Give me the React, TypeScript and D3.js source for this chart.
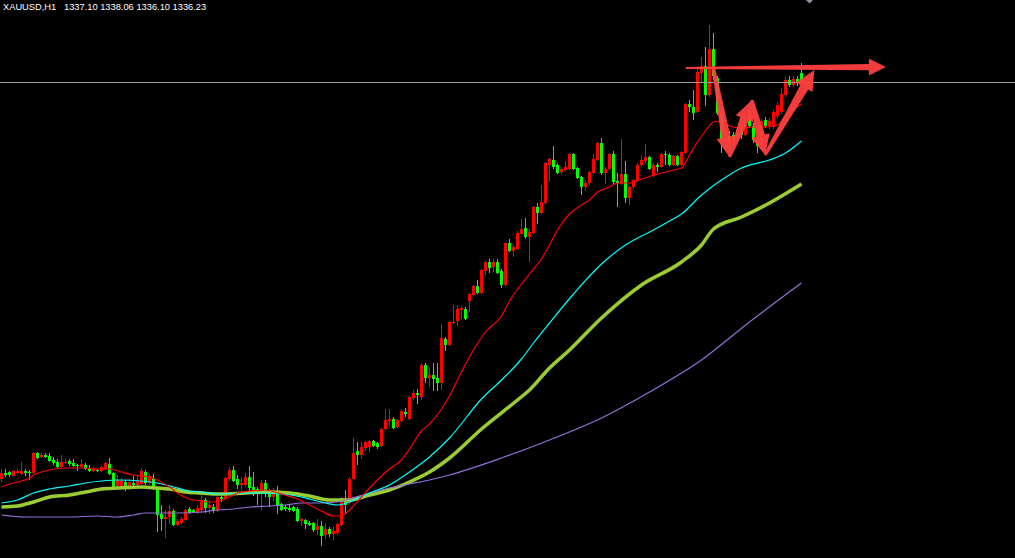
import React, { useEffect } from "react";
import * as d3 from "d3";

type Candle = [number, number, number, number]; // open, high, low, close
type Pt = [number, number]; // candle index, price

const symbolLabel = "XAUUSD,H1";

const candlesRange: Candle[] = [
  [1296.5,1297.5,1296.2,1297.1],[1297.1,1297.5,1296.7,1296.9],[1297.2,1297.3,1296.7,1296.9],
  [1296.8,1297.4,1296.7,1297.3],[1297.1,1297.5,1297.0,1297.3],[1297.0,1298.2,1296.9,1297.3],
  [1297.3,1297.5,1296.8,1297.1],[1297.2,1297.4,1296.4,1297.1],[1297.1,1299.2,1297.0,1299.1],
  [1299.1,1299.2,1298.5,1298.6],[1298.7,1299.1,1298.6,1298.9],[1298.9,1299.1,1298.6,1298.7],
  [1298.8,1299.1,1298.2,1298.3],[1298.4,1298.7,1297.9,1298.1],[1298.2,1298.5,1297.6,1297.7],
  [1297.7,1298.9,1297.6,1298.2],[1298.1,1298.5,1298.0,1298.2],[1298.3,1298.5,1297.8,1298.0],
  [1298.1,1298.5,1297.7,1297.8],[1297.9,1298.0,1297.3,1297.8],[1297.7,1298.5,1297.6,1298.0],
  [1297.9,1298.1,1297.4,1297.5],[1297.6,1297.9,1297.2,1297.3],[1297.3,1297.7,1297.2,1297.5],
  [1297.4,1297.5,1297.2,1297.3],[1297.3,1297.8,1297.2,1297.7],[1297.5,1298.2,1297.4,1298.1],
  [1298.0,1298.6,1296.9,1297.0],[1297.1,1297.2,1295.6,1295.7],[1295.8,1296.9,1295.6,1296.4],
  [1295.8,1296.6,1295.7,1296.3],[1296.2,1296.4,1295.3,1295.7],[1295.5,1296.5,1295.4,1296.2],
  [1296.1,1296.8,1295.7,1295.9],[1295.9,1296.8,1295.6,1296.3],[1296.0,1297.6,1295.9,1297.3],
  [1297.2,1297.4,1295.9,1296.1],[1296.1,1297.0,1295.9,1296.8],[1296.6,1297.0,1295.4,1295.5],
  [1295.6,1295.7,1291.2,1292.9],[1293.0,1293.9,1291.3,1292.5],[1292.5,1293.4,1290.6,1292.7],
  [1292.7,1293.9,1292.0,1293.3],[1293.3,1293.5,1291.8,1291.9],[1291.9,1292.5,1291.8,1292.3],
  [1292.1,1292.7,1292.0,1292.5],[1292.4,1293.5,1292.3,1293.4],[1293.5,1293.7,1293.0,1293.1],
  [1293.4,1293.5,1293.1,1293.2],[1293.1,1293.9,1293.0,1293.6],
];

const candlesBase: Candle[] = [
  [1293.4,1295.2,1293.1,1294.4],[1294.4,1294.6,1293.1,1293.6],[1293.6,1294.2,1293.0,1293.9],
  [1293.7,1294.0,1293.1,1293.3],[1293.3,1294.8,1293.2,1294.7],[1294.7,1294.9,1294.2,1294.5],
  [1294.5,1296.7,1294.4,1296.6],[1296.5,1297.7,1296.3,1297.4],[1297.4,1297.8,1296.2,1296.3],
  [1296.5,1296.9,1295.5,1295.9],[1295.9,1296.7,1295.4,1296.1],[1295.9,1297.1,1295.7,1296.7],
  [1296.7,1297.8,1295.1,1295.6],[1295.7,1297.2,1294.8,1295.2],[1295.5,1295.7,1293.9,1295.2],
  [1295.1,1296.4,1293.4,1296.1],[1296.1,1296.4,1294.7,1295.3],[1295.4,1295.5,1293.7,1294.7],
  [1294.7,1295.6,1294.3,1295.3],[1295.3,1295.8,1293.0,1293.9],[1294.0,1294.1,1293.3,1293.4],
  [1293.7,1293.9,1293.3,1293.5],[1293.6,1293.9,1293.2,1293.4],[1293.7,1293.8,1293.2,1293.3],
  [1293.5,1293.7,1292.2,1292.3],[1292.3,1292.6,1291.8,1292.5],[1292.4,1292.5,1291.5,1292.0],
  [1292.1,1292.3,1291.8,1291.9],[1292.1,1292.2,1291.2,1291.4],[1291.4,1292.5,1290.9,1291.8],
  [1291.8,1292.3,1289.8,1290.8],[1290.9,1292.1,1290.5,1291.5],[1291.5,1291.7,1290.7,1291.0],
  [1291.0,1291.7,1290.4,1291.3],[1291.1,1292.1,1290.9,1292.0],[1291.9,1294.7,1291.8,1294.6],
  [1294.5,1295.4,1293.1,1293.9],[1294.1,1296.7,1294.0,1296.5],
];

const candlesRally: Candle[] = [
  [1296.5,1300.6,1296.4,1299.1],[1299.3,1300.2,1297.9,1298.9],[1298.9,1300.2,1298.5,1299.7],
  [1299.6,1300.3,1299.3,1300.2],[1299.7,1300.4,1299.2,1300.3],[1300.3,1300.4,1299.7,1299.8],
  [1300.1,1300.2,1299.5,1299.7],[1299.8,1301.6,1299.7,1301.5],[1301.5,1303.5,1301.4,1302.4],
  [1302.3,1303.5,1301.7,1302.5],[1302.5,1302.7,1301.5,1301.6],[1301.7,1302.5,1301.6,1302.4],
  [1302.3,1303.5,1302.2,1303.3],[1303.2,1303.6,1302.7,1303.0],[1302.5,1304.8,1302.4,1304.7],
  [1304.6,1305.4,1304.4,1305.1],[1305.1,1305.5,1304.0,1304.9],[1304.7,1308.1,1304.4,1307.9],
  [1307.9,1308.1,1306.1,1306.6],[1306.6,1307.7,1305.7,1306.9],[1306.9,1308.1,1305.3,1306.5],
  [1306.6,1308.1,1305.3,1306.1],[1306.1,1312.0,1305.4,1310.6],[1310.5,1310.7,1309.3,1309.9],
  [1309.9,1312.3,1309.8,1312.2],[1312.1,1313.9,1312.0,1312.2],[1312.3,1313.9,1311.8,1313.5],
  [1313.4,1313.8,1312.5,1313.6],[1313.5,1313.7,1312.4,1312.5],[1314.3,1315.1,1313.2,1315.0],
  [1314.9,1315.9,1314.8,1315.8],[1315.8,1316.4,1315.0,1315.1],[1315.1,1317.5,1315.0,1317.4],
  [1317.3,1318.3,1316.9,1318.2],[1318.2,1318.5,1317.1,1317.6],[1317.7,1318.5,1317.2,1318.2],
  [1318.2,1318.5,1317.0,1317.1],[1317.3,1317.5,1315.6,1315.9],[1315.9,1320.2,1315.8,1320.1],
  [1320.1,1320.5,1319.2,1319.3],[1319.3,1319.9,1318.7,1319.7],[1319.5,1321.3,1319.4,1321.1],
  [1321.0,1322.5,1320.9,1321.5],[1321.6,1322.6,1320.5,1320.7],[1320.7,1321.5,1318.2,1321.2],
  [1321.1,1323.8,1321.0,1323.7],[1323.7,1324.1,1322.0,1323.1],[1323.1,1325.9,1323.0,1324.2],
  [1324.1,1328.2,1324.0,1328.1],[1327.9,1328.6,1326.2,1328.5],
];

const candlesTop: Candle[] = [
  [1328.4,1329.8,1327.5,1327.7],[1327.9,1328.1,1327.0,1327.1],[1327.2,1327.7,1327.0,1327.5],
  [1327.4,1328.3,1327.3,1327.7],[1327.5,1329.1,1327.4,1329.0],[1329.0,1329.1,1327.4,1327.5],
  [1327.6,1327.7,1326.5,1326.6],[1326.7,1326.8,1324.9,1325.7],[1325.7,1326.4,1325.3,1326.1],
  [1326.1,1327.3,1325.9,1327.2],[1327.1,1329.0,1327.0,1328.5],[1328.4,1330.2,1328.3,1330.1],
  [1330.1,1330.6,1326.9,1327.1],[1327.1,1327.7,1326.0,1327.5],[1327.5,1329.1,1327.4,1329.0],
  [1329.0,1329.3,1325.9,1326.2],[1326.3,1327.1,1323.7,1326.1],[1326.0,1330.5,1325.9,1327.0],
  [1327.0,1328.3,1324.1,1324.6],[1324.6,1325.8,1323.9,1325.7],[1325.7,1326.5,1325.5,1326.4],
  [1326.3,1328.1,1326.2,1327.9],[1327.9,1328.9,1327.7,1328.4],[1328.3,1330.0,1328.0,1328.7],
  [1328.7,1328.8,1327.4,1327.5],[1326.8,1328.1,1326.7,1327.9],[1327.9,1328.1,1327.2,1327.7],
  [1327.7,1329.1,1327.6,1329.0],[1329.0,1329.3,1327.9,1328.9],[1328.9,1329.1,1327.8,1327.9],
  [1327.9,1328.9,1327.8,1328.8],[1328.8,1328.9,1327.8,1327.9],[1327.9,1329.3,1327.8,1329.2],
];

const candlesPeak: Candle[] = [
  [1329.1,1334.1,1329.0,1334.0],[1334.0,1334.4,1333.2,1333.7],[1333.7,1335.4,1332.4,1333.1],
  [1333.2,1337.7,1333.1,1337.2],[1337.1,1338.7,1336.2,1337.8],[1337.8,1339.7,1333.8,1334.9],
  [1334.9,1341.9,1334.7,1339.5],[1339.5,1341.1,1336.4,1336.8],[1336.6,1336.8,1332.9,1333.1],
  [1333.1,1333.4,1329.1,1330.4],[1330.2,1331.1,1329.4,1330.8],[1330.8,1331.3,1329.4,1330.3],
  [1330.9,1331.2,1330.2,1330.6],[1330.6,1331.7,1330.4,1331.5],[1331.5,1331.8,1330.5,1330.9],
  [1330.9,1332.7,1330.8,1332.5],[1332.6,1333.1,1331.7,1331.8],[1331.8,1332.1,1330.1,1330.4],
  [1330.4,1330.7,1329.1,1329.8],[1329.8,1332.5,1329.6,1332.3],[1332.4,1332.7,1331.6,1331.8],
  [1331.8,1332.6,1331.5,1332.3],[1331.7,1333.4,1331.5,1333.2],[1332.8,1334.2,1332.6,1333.9],
  [1333.2,1335.6,1333.0,1335.0],[1334.9,1336.7,1334.7,1336.4],[1336.4,1336.8,1335.7,1335.9],
  [1335.9,1336.8,1335.7,1336.5],[1336.5,1336.8,1335.8,1336.1],[1337.10,1338.06,1336.10,1336.23],
];

const maRed: Pt[] = [
  [0,1295.7],[2,1296.0],[5,1296.3],[7,1296.6],[8,1296.9],[10,1297.2],[12,1297.4],[16,1297.6],
  [20,1297.6],[25,1297.5],[27,1297.5],[30,1297.2],[33,1296.9],[37,1296.7],[39,1296.4],[42,1295.7],
  [44,1295.1],[47,1294.5],[50,1294.3],[53,1294.2],[56,1294.5],[59,1295.1],[62,1295.3],[66,1295.4],
  [70,1295.0],[74,1294.5],[77,1293.9],[80,1293.3],[83,1292.8],[85,1292.8],[87,1293.4],[90,1294.7],
  [92,1295.6],[95,1296.8],[97,1297.5],[100,1298.4],[102,1299.5],[105,1301.3],[107,1302.0],[110,1303.5],
  [112,1304.8],[115,1307.2],[118,1309.4],[121,1311.2],[125,1312.8],[127,1314.3],[130,1316.0],[132,1317.0],
  [135,1318.5],[137,1319.9],[139,1321.4],[142,1323.0],[145,1323.9],[147,1324.4],[149,1325.2],[152,1325.7],
  [154,1326.1],[157,1326.1],[160,1326.5],[165,1327.1],[168,1327.4],[170,1327.6],[172,1328.9],[174,1330.2],
  [176,1331.3],[178,1332.2],[180,1332.3],[182,1331.8],[185,1331.6],[188,1331.7],[191,1331.7],[194,1331.9],
  [196,1332.8],[198,1333.5],[200,1334.0],
];

const maCyan: Pt[] = [
  [0,1294.1],[4,1294.4],[8,1295.1],[12,1295.5],[17,1295.8],[21,1296.1],[25,1296.3],[29,1296.4],
  [35,1296.3],[39,1296.1],[43,1295.7],[47,1295.3],[50,1295.2],[54,1295.0],[62,1295.1],[70,1295.0],
  [75,1294.7],[77,1294.5],[80,1294.2],[84,1293.9],[87,1294.2],[92,1295.1],[97,1295.9],[102,1297.2],
  [107,1298.7],[112,1300.6],[120,1304.5],[125,1306.4],[130,1308.5],[133,1310.1],[137,1312.1],[143,1315.0],
  [150,1318.0],[156,1319.9],[163,1321.4],[167,1322.3],[170,1323.0],[175,1324.9],[180,1326.4],[185,1327.6],
  [192,1328.4],[196,1329.1],[200,1330.3],
];

const maGreen: Pt[] = [
  [0,1293.7],[4,1293.8],[8,1294.2],[12,1294.7],[17,1294.9],[21,1295.2],[25,1295.5],[29,1295.6],
  [35,1295.7],[39,1295.6],[42,1295.5],[46,1295.2],[50,1295.1],[54,1295.0],[61,1295.1],[67,1295.2],
  [72,1295.1],[77,1294.8],[82,1294.4],[87,1294.4],[92,1294.9],[97,1295.4],[102,1296.2],[107,1297.2],
  [112,1298.6],[120,1301.5],[129,1304.4],[132,1305.4],[137,1307.6],[142,1309.4],[150,1312.6],[160,1315.9],
  [170,1318.2],[175,1319.9],[178,1321.5],[185,1322.7],[192,1324.1],[200,1326.0],
];

const maPurple: Pt[] = [
  [0,1292.9],[6,1292.7],[10,1292.7],[17,1292.7],[24,1292.8],[29,1292.7],[33,1292.9],[36,1293.1],
  [40,1293.1],[44,1293.1],[50,1293.2],[54,1293.4],[58,1293.5],[62,1293.7],[67,1293.8],[71,1293.9],
  [75,1294.1],[79,1294.1],[84,1294.2],[87,1294.5],[92,1295.1],[97,1295.6],[102,1296.0],[107,1296.4],
  [112,1296.9],[125,1298.6],[137,1300.4],[150,1302.6],[162,1305.2],[175,1308.4],[187,1312.2],[200,1316.1],
];

const arrowZigzag: Pt[] = [[177.9,1337.8],[182.0,1328.7],[187.6,1334.4],[190.9,1328.9],[203.2,1337.4]];
const arrowFlat: Pt[] = [[171.1,1337.6],[221.1,1337.7]];

const candles: Candle[] = [...candlesRange, ...candlesBase, ...candlesRally, ...candlesTop, ...candlesPeak];

const W = 1015;
const H = 558;
const x = d3.scaleLinear().domain([0, 200]).range([1.5, 801.5]);
const y = d3.scaleLinear().domain([1288.6, 1344.4]).range([H, 0]);

function arrowPolygon(a: Pt, b: Pt, w0: number, w1: number, hw: number, hl: number): string {
  const x0 = x(a[0]), y0 = y(a[1]), x1 = x(b[0]), y1 = y(b[1]);
  const dx = x1 - x0, dy = y1 - y0;
  const L = Math.hypot(dx, dy);
  const ux = dx / L, uy = dy / L;
  const nx = -uy, ny = ux;
  const bx = x1 - ux * hl, by = y1 - uy * hl;
  const pts: [number, number][] = [
    [x0 + nx * w0, y0 + ny * w0],
    [bx + nx * w1, by + ny * w1],
    [bx + nx * hw, by + ny * hw],
    [x1, y1],
    [bx - nx * hw, by - ny * hw],
    [bx - nx * w1, by - ny * w1],
    [x0 - nx * w0, y0 - ny * w0],
  ];
  return pts.map((p) => p[0].toFixed(2) + "," + p[1].toFixed(2)).join(" ");
}

export default function App() {
  useEffect(() => {
    document.body.style.margin = "0";
    document.body.style.background = "#000";
  }, []);

  const line = d3
    .line<Pt>()
    .x((d) => x(d[0]))
    .y((d) => y(d[1]))
    .curve(d3.curveMonotoneX);

  const last = candles[candles.length - 1];
  const bidY = Math.round(y(last[3])) + 0.5;
  const headerValues = last.map((v) => v.toFixed(2)).join(" ");

  return (
    <svg
      width={W}
      height={H}
      style={{ position: "fixed", left: 0, top: 0, display: "block", background: "#000" }}
    >
      <rect x={0} y={0} width={W} height={H} fill="#000" />
      <g shapeRendering="crispEdges">
        {candles.map((c, i) => {
          const [o, h, l, cl] = c;
          const up = cl >= o;
          const col = up ? "#ff0000" : "#00ff00";
          const cx = x(i);
          const top = Math.round(y(Math.max(o, cl)));
          const bot = Math.round(y(Math.min(o, cl)));
          const hi = Math.round(y(h));
          const lo = Math.round(y(l));
          return (
            <g key={i}>
              <rect x={cx - 0.5} y={hi} width={1} height={Math.max(1, lo - hi)} fill={col} />
              <rect x={cx - 1.5} y={top} width={3} height={Math.max(1, bot - top)} fill={col} />
            </g>
          );
        })}
      </g>
      <line x1={0} x2={W} y1={bidY} y2={bidY} stroke="#a0a0a0" strokeWidth={1} shapeRendering="crispEdges" />
      <path d={line(maGreen) || ""} fill="none" stroke="#9acd32" strokeWidth={3.5} />
      <path d={line(maPurple) || ""} fill="none" stroke="#9370db" strokeWidth={1.2} />
      <path d={line(maCyan) || ""} fill="none" stroke="#00ffff" strokeWidth={1.2} />
      <path d={line(maRed) || ""} fill="none" stroke="#ff0000" strokeWidth={1.2} />
      <g fill="#ff4040" opacity={0.95}>
        <polygon points={arrowPolygon(arrowFlat[0], arrowFlat[1], 1, 3.2, 8.5, 17)} />
        {arrowZigzag.slice(1).map((p, i) => (
          <polygon key={i} points={arrowPolygon(arrowZigzag[i], p, 1.6, 4.6, 9.5, 20)} />
        ))}
      </g>
      <polygon points="806,0 813,0 809.5,3.5" fill="#8a98a8" />
      <text x={3} y={9.5} fill="#ffffff" fontFamily="'Liberation Sans', Arial, sans-serif" fontSize={9.3}>
        {symbolLabel}
      </text>
      <text x={64} y={9.5} fill="#ffffff" fontFamily="'Liberation Sans', Arial, sans-serif" fontSize={9.3}>
        {headerValues}
      </text>
    </svg>
  );
}
